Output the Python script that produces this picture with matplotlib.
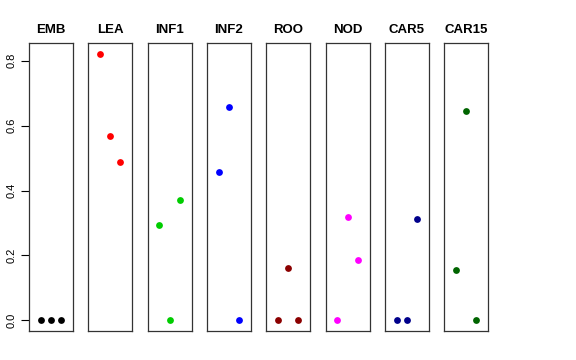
import numpy as np
import matplotlib
matplotlib.use("Agg")
import matplotlib.pyplot as plt

plt.rcParams["font.family"] = ["Liberation Sans", "DejaVu Sans"]

# tissues, one panel each
tissues = ["EMB", "LEA", "INF1", "INF2", "ROO", "NOD", "CAR5", "CAR15"]
colors = ["black", "red", "#00CD00", "blue", "#8B0000", "magenta", "#00008B", "#006400"]

# three samples per tissue
values = [
    [0.0, 0.0, 0.0],
    [0.822, 0.568, 0.487],
    [0.295, 0.0, 0.372],
    [0.458, 0.657, 0.0],
    [0.0, 0.162, 0.0],
    [0.0, 0.320, 0.186],
    [0.0, 0.0, 0.313],
    [0.156, 0.645, 0.0],
]
samples = [1, 2, 3]
yticks = [0.0, 0.2, 0.4, 0.6, 0.8]

W, H = 576, 360
fig = plt.figure(figsize=(W / 100, H / 100), dpi=100)

ymax = max(max(v) for v in values)
pad = 0.04 * ymax
left0, step, pw = 29, 59.3, 44
top, bottom = 43, 331

for i, (name, col, vals) in enumerate(zip(tissues, colors, values)):
    x0 = left0 + i * step
    ax = fig.add_axes([x0 / W, (H - bottom) / H, pw / W, (bottom - top) / H])
    ax.scatter(samples, vals, s=24, color=col, zorder=3, linewidths=0)
    ax.set_xlim(-0.16, 4.16)
    ax.set_ylim(-pad, ymax + pad)
    ax.set_xticks([])
    for sp in ax.spines.values():
        sp.set_linewidth(0.9)
        sp.set_color("#333333")
    ax.set_title(name, fontsize=9.5, fontweight="bold", pad=7)
    if i == 0:
        ax.set_yticks(yticks)
        ax.set_yticklabels(["%.1f" % t for t in yticks], rotation=90,
                           va="center", fontsize=8)
        ax.tick_params(axis="y", length=6, width=0.8, pad=3)
    else:
        ax.set_yticks([])

fig.savefig("out.png", dpi=100)
